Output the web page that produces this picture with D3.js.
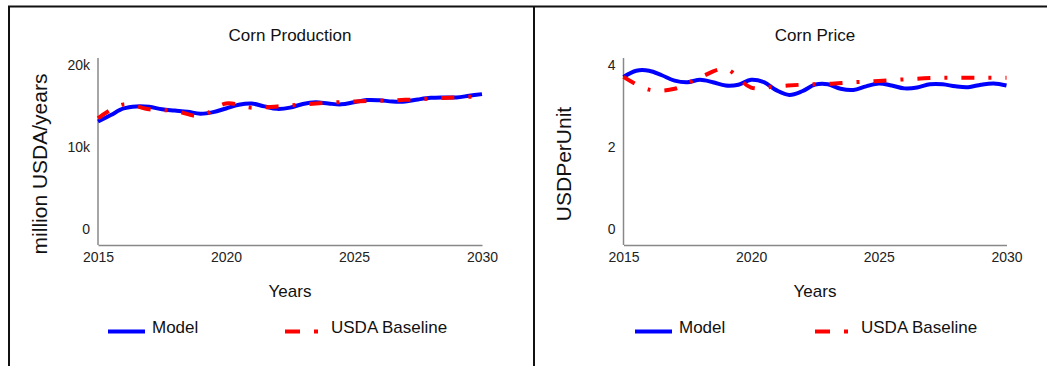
<!DOCTYPE html>
<html>
<head>
<meta charset="utf-8">
<script src="https://cdn.jsdelivr.net/npm/d3@7"></script>
<style>
  body { margin: 0; background: #fff; }
  svg { display: block; font-family: "Liberation Sans", Arial, sans-serif; }
</style>
</head>
<body>
<svg width="1047" height="366"></svg>
<script>
// data
let annees = [2015, 2016, 2017, 2018, 2019, 2020, 2021, 2022, 2023, 2024, 2025, 2026, 2027, 2028, 2029, 2030];
let demiAnnees = [2015, 2015.5, 2016, 2016.5, 2017, 2017.5, 2018, 2018.5, 2019, 2019.5, 2020, 2020.5,
    2021, 2021.5, 2022, 2022.5, 2023, 2023.5, 2024, 2024.5, 2025, 2025.5, 2026, 2026.5,
    2027, 2027.5, 2028, 2028.5, 2029, 2029.5, 2030];

let productionModel = [13100, 13900, 14700, 14950, 14900, 14600, 14450, 14300, 14050, 14250, 14700, 15150,
    15300, 14950, 14650, 14800, 15250, 15450, 15300, 15200, 15450, 15730, 15700, 15550,
    15550, 15800, 16000, 16050, 16050, 16250, 16450];
let productionUSDA = [13500, 15200, 14600, 14400, 13800, 15300, 14800, 14950, 15200, 15400, 15550, 15650, 15750, 15900, 16050, 16200];

let prixModel = [3.71, 3.86, 3.86, 3.75, 3.62, 3.58, 3.64, 3.58, 3.50, 3.52, 3.64, 3.58,
    3.38, 3.27, 3.36, 3.52, 3.53, 3.42, 3.39, 3.48, 3.55, 3.50, 3.43, 3.45,
    3.53, 3.53, 3.48, 3.46, 3.52, 3.55, 3.50];
let prixUSDA = [3.71, 3.40, 3.42, 3.70, 3.90, 3.45, 3.48, 3.52, 3.54, 3.58, 3.61, 3.65, 3.68, 3.69, 3.69, 3.69];

let xTicks = [2015, 2020, 2025, 2030];
let ticksProduction = [0, 10000, 20000];
let ticksPrix = [0, 2, 4];

let svg = d3.select("svg");

// cadre
svg.append("line").attr("x1", 8).attr("x2", 1047).attr("y1", 6.5).attr("y2", 6.5)
    .attr("stroke", "#111").attr("stroke-width", 2);
svg.append("line").attr("x1", 9).attr("x2", 9).attr("y1", 6).attr("y2", 366)
    .attr("stroke", "#111").attr("stroke-width", 2);
svg.append("line").attr("x1", 534).attr("x2", 534).attr("y1", 6).attr("y2", 366)
    .attr("stroke", "#111").attr("stroke-width", 2);

function panneau(o) {
    let g = svg.append("g");

    let x = d3.scaleLinear().domain([2015, 2030]).range([o.gauche, o.droite]);
    let y = d3.scaleLinear().domain(o.domaineY).range([229, 65]);

    // axes
    g.append("line").attr("x1", o.gauche).attr("x2", o.gauche).attr("y1", 58).attr("y2", 245)
        .attr("stroke", "#888").attr("stroke-width", 1.5);

    let axeX = g.append("g").attr("transform", "translate(0,245)")
        .call(d3.axisBottom(x).tickValues(xTicks).tickSize(0).tickPadding(7).tickFormat(d3.format("d")));
    axeX.select(".domain").attr("stroke", "#888").attr("stroke-width", 1.5);

    let axeY = g.append("g").attr("transform", "translate(" + o.gauche + ",0)")
        .call(d3.axisLeft(y).tickValues(o.ticksY).tickSize(0).tickPadding(8).tickFormat(o.format));
    axeY.select(".domain").remove();

    g.selectAll(".tick text").attr("font-size", 14).attr("fill", "#222")
        .attr("font-family", "'Liberation Sans', Arial, sans-serif");

    // courbes
    let ligneModel = d3.line().x((d, i) => x(demiAnnees[i])).y(d => y(d)).curve(d3.curveCatmullRom);
    let ligneUSDA = d3.line().x((d, i) => x(annees[i])).y(d => y(d)).curve(d3.curveCatmullRom);

    g.append("path").attr("d", ligneModel(o.model))
        .attr("fill", "none").attr("stroke", "#0000ff").attr("stroke-width", 4);
    g.append("path").attr("d", ligneUSDA(o.usda))
        .attr("fill", "none").attr("stroke", "#ff0000").attr("stroke-width", 4)
        .attr("stroke-dasharray", "13,14,3,14");

    // textes
    let milieu = (o.gauche + o.droite) / 2;
    g.append("text").attr("x", milieu).attr("y", 41).attr("text-anchor", "middle")
        .attr("font-size", 17).attr("fill", "#111").text(o.titre);
    g.append("text").attr("x", milieu).attr("y", 297).attr("text-anchor", "middle")
        .attr("font-size", 17).attr("fill", "#111").text("Years");
    g.append("text").attr("transform", "translate(" + o.xLabelY + ",164) rotate(-90)")
        .attr("text-anchor", "middle").attr("dy", "0.35em")
        .attr("font-size", 21).attr("fill", "#111").text(o.labelY);

    // légende
    g.append("line").attr("x1", o.leg1).attr("x2", o.leg1 + 37).attr("y1", 331.5).attr("y2", 331.5)
        .attr("stroke", "#0000ff").attr("stroke-width", 4);
    g.append("text").attr("x", o.leg1 + 44).attr("y", 333)
        .attr("font-size", 17).attr("fill", "#111").text("Model");
    g.append("line").attr("x1", o.leg2).attr("x2", o.leg2 + 34).attr("y1", 331.5).attr("y2", 331.5)
        .attr("stroke", "#ff0000").attr("stroke-width", 4).attr("stroke-dasharray", "15,14,4,14");
    g.append("text").attr("x", o.leg2 + 46).attr("y", 333)
        .attr("font-size", 17).attr("fill", "#111").text("USDA Baseline");
}

panneau({
    gauche: 98, droite: 482,
    domaineY: [0, 20000], ticksY: ticksProduction, format: d3.format("~s"),
    model: productionModel, usda: productionUSDA,
    titre: "Corn Production", labelY: "million USDA/years", xLabelY: 40,
    leg1: 108, leg2: 285
});

panneau({
    gauche: 623.5, droite: 1006.5,
    domaineY: [0, 4], ticksY: ticksPrix, format: d3.format("d"),
    model: prixModel, usda: prixUSDA,
    titre: "Corn Price", labelY: "USDPerUnit", xLabelY: 564,
    leg1: 635, leg2: 815
});
</script>
</body>
</html>
